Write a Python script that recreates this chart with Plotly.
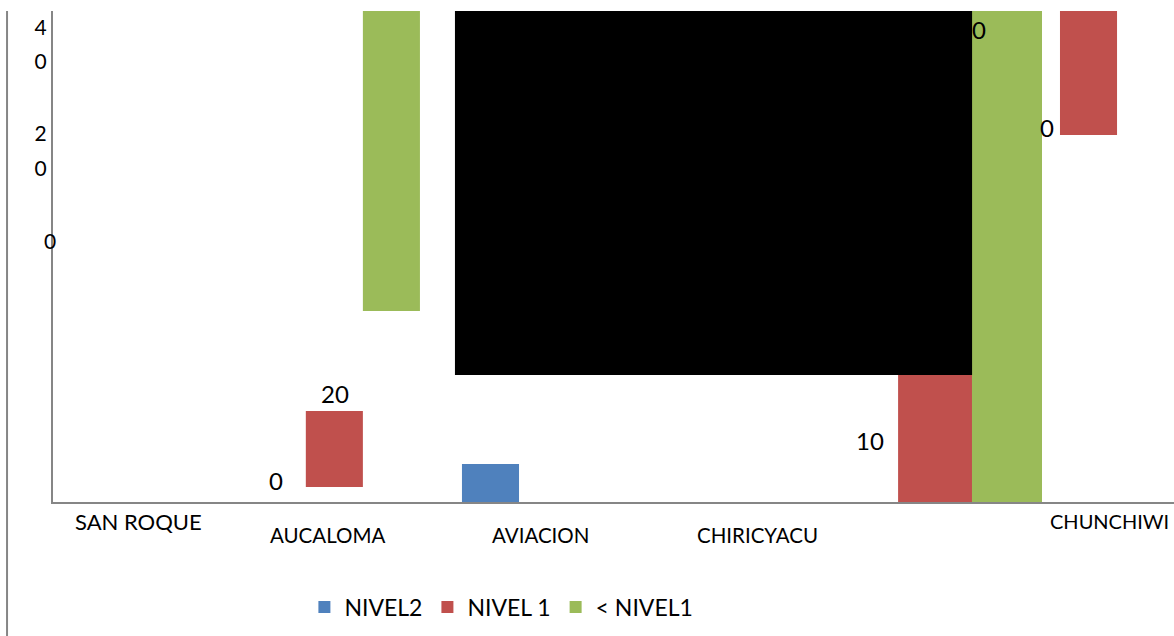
import plotly.graph_objects as go

# ---- data ----
categories = ["SAN ROQUE", "AUCALOMA", "AVIACION", "CHIRICYACU", "CHUNCHIWI"]
category_pos = [0.043, 0.947, 1.962, 3.0, 4.687]
category_low = [False, True, True, True, False]

nivel2_x = [1.725]
nivel2_base = [0.0]
nivel2_top = [3.87]
nivel2_w = [0.273]

nivel1_x = [0.978, 3.852, 4.586]
nivel1_base = [1.53, 0.0, 37.37]
nivel1_top = [9.27, 20.0, 50.0]
nivel1_w = [0.273, 0.354, 0.273]

menor_x = [1.251, 4.196]
menor_base = [19.45, 0.0]
menor_top = [50.0, 50.0]
menor_w = [0.273, 0.335]

mask_x = [2.792]
mask_base = [12.93]
mask_top = [50.0]
mask_w = [2.474]

label_text = ["20", "0", "10", "0", "0"]
label_x = [0.981, 0.699, 3.541, 4.062, 4.388]
label_y = [11.1, 2.24, 6.31, 48.07, 38.09]

tick_vals = [48.27, 44.81, 37.47, 33.91]
tick_text = ["4", "0", "2", "0"]
cut_tick_y = 26.58

BLUE, RED, GREEN = "#4F81BD", "#C0504D", "#9BBB59"
FONT = "Lato"


def heights(base, top):
    return [t - b for b, t in zip(base, top)]


fig = go.Figure()
fig.add_bar(name="NIVEL2", x=nivel2_x, y=heights(nivel2_base, nivel2_top),
            base=nivel2_base, width=nivel2_w, marker_color=BLUE, marker_line_width=0)
fig.add_bar(name="NIVEL 1", x=nivel1_x, y=heights(nivel1_base, nivel1_top),
            base=nivel1_base, width=nivel1_w, marker_color=RED, marker_line_width=0)
fig.add_bar(name="< NIVEL1", x=menor_x, y=heights(menor_base, menor_top),
            base=menor_base, width=menor_w, marker_color=GREEN, marker_line_width=0)
fig.add_bar(name="", x=mask_x, y=heights(mask_base, mask_top), base=mask_base,
            width=mask_w, marker_color="#000000", marker_line_width=0,
            showlegend=False)

annotations = []
for t, x, y in zip(label_text, label_x, label_y):
    annotations.append(dict(text=t, x=x, y=y, xref="x", yref="y", showarrow=False,
                            font=dict(family=FONT, size=24, color="#000")))
for c, x, low in zip(categories, category_pos, category_low):
    annotations.append(dict(text=c, x=x, y=0, xref="x", yref="y", showarrow=False,
                            yanchor="middle", yshift=-33 if low else -19,
                            font=dict(family=FONT, size=20.5 if low else (22 if x < 1 else 20),
                                      color="#000")))
annotations.append(dict(text="0", x=-0.003, y=cut_tick_y, xref="paper", yref="y",
                        xanchor="center", showarrow=False,
                        font=dict(family=FONT, size=21, color="#000")))

fig.update_layout(
    width=1174, height=636,
    margin=dict(l=53, r=0, t=11, b=134),
    paper_bgcolor="white", plot_bgcolor="white",
    barmode="overlay",
    showlegend=True,
    legend=dict(orientation="h", x=0.40, xanchor="center", y=-0.214, yanchor="middle",
                font=dict(family=FONT, size=23, color="#000"), traceorder="normal"),
    annotations=annotations,
    shapes=[dict(type="line", xref="paper", yref="paper", x0=-0.041, x1=-0.041,
                 y0=-0.3, y1=1.0, line=dict(color="#868686", width=2))],
    xaxis=dict(range=[-0.368, 4.995], showgrid=False, zeroline=False,
               showticklabels=False, showline=True, linecolor="#868686", linewidth=2),
    yaxis=dict(range=[0, 50], showgrid=False, zeroline=False, showline=True,
               linecolor="#868686", linewidth=2, tickvals=tick_vals, ticktext=tick_text,
               tickfont=dict(family=FONT, size=21, color="#000")),
)

fig.write_html("out.html", config={"displayModeBar": False},
               post_script="document.body.style.margin='0';")
